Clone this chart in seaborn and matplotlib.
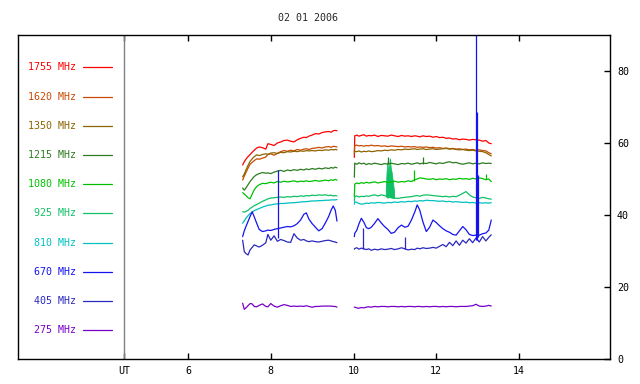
import matplotlib
matplotlib.use("Agg")
import matplotlib.pyplot as plt
import numpy as np
import pandas as pd
import seaborn as sns

# ---------------------------------------------------------------------------
# Data
# ---------------------------------------------------------------------------
TITLE = "02 01 2006"
BANDS = ["1755 MHz", "1620 MHz", "1350 MHz", "1215 MHz", "1080 MHz",
         "925 MHz", "810 MHz", "670 MHz", "405 MHz", "275 MHz"]
COLORS = ["#FF0000", "#C84A00", "#8C6400", "#2C7C20", "#00C000",
          "#10C064", "#00C0C0", "#1414F0", "#2828C0", "#7800C8"]

UT_MARK = 4.45
X_TICKS = [6, 8, 10, 12, 14]
Y_TICKS = [0, 20, 40, 60, 80]

# first observing block
T1 = [7.32, 7.36, 7.40, 7.45, 7.50, 7.55, 7.60, 7.66, 7.72, 7.80,
      7.88, 7.93, 8.00, 8.08, 8.16, 8.24, 8.32, 8.40, 8.48, 8.56,
      8.64, 8.72, 8.80, 8.86, 8.92, 9.00, 9.08, 9.16, 9.24, 9.32,
      9.40, 9.46, 9.51, 9.56, 9.60]
F1755_A = [53.9, 54.8, 55.5, 56.2, 56.8, 57.4, 58.0, 58.6, 58.9, 58.7,
           58.3, 59.8, 59.6, 59.3, 60.0, 60.3, 60.7, 60.8, 60.5, 60.3,
           60.9, 61.3, 61.6, 61.5, 61.9, 62.2, 62.6, 62.5, 62.9, 63.1,
           63.2, 63.0, 63.4, 63.5, 63.4]
F1620_A = [49.7, 50.8, 51.8, 53.0, 54.1, 54.6, 55.1, 55.6, 55.5, 55.8,
           56.1, 56.9, 57.0, 56.6, 57.1, 57.6, 57.9, 57.7, 58.0, 57.8,
           58.2, 58.0, 58.3, 58.4, 58.2, 58.5, 58.6, 58.8, 58.6, 58.9,
           59.0, 58.8, 59.1, 59.0, 58.9]
F1350_A = [50.6, 51.4, 52.5, 53.8, 54.9, 55.6, 56.2, 56.7, 56.5, 56.8,
           57.0, 56.8, 57.2, 57.3, 57.1, 57.4, 57.3, 57.6, 57.5, 57.7,
           57.6, 57.8, 57.7, 57.9, 57.8, 57.9, 57.8, 58.0, 57.9, 58.1,
           58.0, 58.2, 58.1, 58.2, 58.1]
F1215_A = [47.5, 46.9, 47.5, 48.4, 49.3, 50.0, 50.7, 51.2, 51.5, 51.8,
           51.6, 51.7, 51.5, 51.9, 52.2, 52.4, 52.1, 52.5, 52.3, 52.6,
           52.4, 52.7, 52.5, 52.8, 52.6, 52.9, 52.7, 53.0, 52.8, 53.1,
           52.9, 53.2, 53.0, 53.3, 53.1]
F1080_A = [46.2, 45.8, 45.4, 44.8, 44.5, 45.8, 47.0, 47.9, 48.4, 48.8,
           48.7, 48.9, 49.1, 48.9, 49.3, 49.1, 49.4, 49.2, 49.3, 49.5,
           49.2, 49.4, 49.3, 49.5, 49.3, 49.4, 49.6, 49.4, 49.5, 49.7,
           49.5, 49.8, 49.6, 49.9, 49.7]
F925_A = [40.9, 40.8, 41.0, 41.3, 41.8, 42.2, 42.6, 42.9, 43.3, 43.8,
          44.2, 44.5, 44.7, 44.8, 44.9, 45.0, 44.9, 45.1, 45.0, 45.2,
          45.1, 45.3, 45.2, 45.4, 45.3, 45.5, 45.4, 45.6, 45.5, 45.6,
          45.4, 45.5, 45.3, 45.4, 45.3]
F810_A = [37.7, 38.4, 39.1, 39.8, 40.4, 40.8, 41.2, 41.5, 41.8, 42.2,
          42.5, 42.7, 42.8, 43.0, 43.1, 43.2, 43.2, 43.3, 43.4, 43.4,
          43.5, 43.6, 43.7, 43.7, 43.8, 43.9, 43.9, 44.0, 44.0, 44.1,
          44.1, 44.2, 44.2, 44.2, 44.3]
F670_A = [34.0, 35.6, 36.8, 38.2, 39.6, 40.9, 39.5, 37.7, 36.0, 35.4,
          35.6, 35.8, 35.7, 36.0, 36.2, 36.4, 36.6, 36.8, 36.7, 37.0,
          37.6, 38.6, 40.2, 40.6, 38.9, 37.6, 36.6, 35.6, 36.2, 37.8,
          39.6, 41.4, 42.5, 41.3, 38.3]
F405_A = [33.0, 29.8, 29.3, 28.9, 30.3, 31.0, 31.7, 31.4, 31.1, 31.6,
          32.3, 34.6, 33.0, 34.2, 32.7, 33.2, 32.9, 32.5, 32.4, 34.8,
          33.6, 33.0, 33.2, 32.8, 32.6, 32.8, 32.6, 32.5, 32.7, 32.9,
          33.0, 32.8, 32.6, 32.5, 32.3]
F275_A = [15.5, 13.8, 14.2, 14.8, 15.4, 15.3, 14.6, 14.5, 14.9, 15.3,
          14.6, 14.5, 15.4, 14.7, 14.4, 14.8, 15.1, 14.9, 14.6, 14.7,
          14.6, 14.7, 14.6, 14.8, 14.6, 14.4, 14.6, 14.6, 14.7, 14.7,
          14.7, 14.7, 14.6, 14.6, 14.4]

# second observing block
T2 = [10.02, 10.03, 10.08, 10.13, 10.19, 10.25, 10.31, 10.37, 10.43, 10.51,
      10.59, 10.67, 10.75, 10.83, 10.91, 10.99, 11.08, 11.16, 11.24, 11.32,
      11.40, 11.48, 11.54, 11.60, 11.68, 11.76, 11.84, 11.92, 12.00, 12.08,
      12.16, 12.24, 12.32, 12.40, 12.48, 12.56, 12.64, 12.72, 12.80, 12.88,
      12.96, 13.04, 13.12, 13.20, 13.27, 13.33]
F1755_B = [56.0, 62.0, 62.2, 61.9, 62.1, 62.3, 61.9, 62.1, 62.0, 62.2,
           61.8, 62.1, 62.0, 61.9, 62.2, 62.0, 61.8, 62.1, 61.9, 62.0,
           61.8, 62.0, 61.9, 61.7, 62.0, 61.8, 61.9, 61.6, 61.8, 61.5,
           61.6, 61.3, 61.4, 61.1, 61.2, 60.9, 61.1, 61.0, 60.8, 61.0,
           60.9, 60.8, 60.5, 60.7, 60.0, 59.8]
F1620_B = [57.5, 59.3, 59.4, 59.2, 59.3, 59.1, 59.3, 59.2, 59.4, 59.2,
           59.3, 59.1, 59.2, 59.0, 59.2, 59.1, 59.0, 59.1, 58.9, 59.0,
           58.9, 59.0, 58.8, 58.9, 58.8, 58.9, 58.7, 58.8, 58.6, 58.7,
           58.5, 58.6, 58.4, 58.5, 58.3, 58.4, 58.2, 58.3, 58.1, 58.2,
           58.0, 58.1, 57.9, 57.8, 57.3, 57.0]
F1350_B = [57.0, 57.7, 57.6, 57.8, 57.5, 57.7, 57.6, 57.8, 57.6, 57.7,
           57.9, 57.8, 58.0, 57.9, 58.1, 58.0, 58.2, 58.1, 58.3, 58.2,
           58.3, 58.4, 58.2, 58.3, 58.4, 58.2, 58.3, 58.4, 58.2, 58.3,
           58.4, 58.5, 58.3, 58.4, 58.2, 58.1, 58.2, 58.0, 57.9, 58.0,
           57.8, 57.7, 57.6, 57.3, 56.8, 56.4]
F1215_B = [50.5, 54.4, 54.1, 54.5, 54.2, 54.4, 54.0, 54.3, 54.1, 54.4,
           54.2, 54.0, 54.3, 54.1, 54.4, 54.2, 54.0, 54.3, 54.2, 54.4,
           54.1, 54.3, 54.5, 54.2, 54.4, 54.3, 54.6, 54.4, 54.2, 54.5,
           54.3, 54.6, 54.8, 54.5, 54.6, 54.3, 54.1, 54.3, 54.5, 54.2,
           54.4, 54.2, 54.5, 54.3, 54.4, 54.3]
F1080_B = [45.0, 48.6, 48.9, 48.7, 49.0, 48.8, 49.1, 48.9, 49.0, 49.2,
           48.9, 49.1, 49.3, 49.0, 49.2, 49.4, 49.1, 49.3, 49.2, 49.5,
           49.3, 49.8, 50.0, 50.3, 50.2, 50.0, 49.9, 50.1, 49.8, 50.0,
           49.9, 50.1, 49.8, 50.0, 49.9, 50.2, 50.0, 50.1, 49.9, 50.2,
           50.0, 50.3, 50.1, 49.8, 50.0, 49.3]
F925_B = [44.0, 45.1, 45.3, 45.0, 45.2, 45.1, 45.3, 45.2, 45.4, 45.6,
          45.3, 45.6, 45.4, 45.2, 45.0, 44.7, 44.6, 44.8, 44.9, 45.0,
          45.1, 45.3, 45.4, 45.2, 45.5, 45.6, 45.5, 45.4, 45.3, 45.2,
          45.1, 45.2, 45.0, 45.2, 45.1, 45.5, 46.0, 46.5, 45.6, 45.0,
          44.8, 44.6, 44.9, 44.7, 44.5, 44.4]
F810_B = [43.0, 43.7, 43.5, 43.2, 43.0, 43.1, 43.3, 43.2, 43.4, 43.3,
          43.5, 43.4, 43.3, 43.5, 43.4, 43.6, 43.5, 43.7, 43.6, 43.8,
          43.7, 43.9, 43.8, 44.0, 43.9, 44.1, 44.0, 44.0, 43.9, 43.8,
          43.9, 43.7, 43.8, 43.6, 43.7, 43.6, 43.5, 43.6, 43.4, 43.5,
          43.3, 43.4, 43.3, 43.4, 43.3, 43.4]
F670_B = [34.0, 34.9, 35.8, 37.5, 39.1, 38.0, 36.5, 36.2, 36.6, 37.7,
          39.0, 37.8, 36.8, 36.0, 34.9, 35.2, 36.5, 37.2, 36.6, 36.9,
          38.6, 40.8, 42.8, 41.4, 38.0, 35.4, 36.6, 38.6, 37.9, 37.0,
          36.2, 35.6, 35.2, 34.6, 34.4, 35.6, 36.8, 35.9, 34.6, 34.3,
          34.4, 34.4, 34.8, 35.0, 35.8, 38.6]
F405_B = [30.5, 30.7, 30.9, 30.5, 30.8, 30.6, 30.4, 30.6, 30.2, 30.5,
          30.3, 30.6, 30.4, 30.5, 30.7, 30.4, 30.6, 30.9, 30.6, 30.3,
          30.5, 30.4, 30.8, 30.6, 30.9, 30.7, 30.8, 31.0, 30.8, 31.3,
          31.8, 31.2, 32.4, 31.5, 32.8, 31.6, 33.0, 32.2, 33.4, 32.3,
          33.6, 32.5, 34.0, 32.8, 33.8, 34.5]
F275_B = [14.4, 14.4, 14.2, 14.1, 14.3, 14.2, 14.4, 14.5, 14.4, 14.6,
          14.5, 14.6, 14.6, 14.5, 14.6, 14.6, 14.5, 14.6, 14.5, 14.6,
          14.6, 14.5, 14.6, 14.6, 14.5, 14.6, 14.5, 14.6, 14.6, 14.5,
          14.6, 14.5, 14.6, 14.6, 14.5, 14.6, 14.6, 14.6, 14.7, 14.8,
          15.2, 14.7, 14.6, 14.7, 14.9, 14.7]

# short spikes (time, low, high)
SPIKE670_T = [8.18, 12.965, 12.995, 13.02]
SPIKE670_LO = [33.5, 33.0, 33.0, 34.0]
SPIKE670_HI = [52.5, 95.0, 68.6, 51.0]
SPIKE405_T = [10.23, 11.25]
SPIKE405_LO = [30.5, 30.5]
SPIKE405_HI = [36.3, 34.0]
SPIKE1080_T = [11.46, 13.20]
SPIKE1080_LO = [49.5, 50.0]
SPIKE1080_HI = [52.5, 51.5]
SPIKE1215_T = [10.83, 11.69]
SPIKE1215_LO = [54.2, 54.2]
SPIKE1215_HI = [56.2, 56.2]

# 925 MHz burst
BURST_T = [10.78, 10.80, 10.82, 10.84, 10.86, 10.88, 10.90, 10.92, 10.94, 10.96, 10.98]
BURST_LO = [45.2, 45.0, 44.8, 45.0, 44.9, 45.1, 44.8, 45.0, 44.7, 44.8, 44.7]
BURST_HI = [47.0, 52.0, 54.8, 51.5, 53.4, 55.7, 53.0, 52.0, 50.2, 48.5, 46.5]

SEG_A = [F1755_A, F1620_A, F1350_A, F1215_A, F1080_A, F925_A, F810_A, F670_A, F405_A, F275_A]
SEG_B = [F1755_B, F1620_B, F1350_B, F1215_B, F1080_B, F925_B, F810_B, F670_B, F405_B, F275_B]

rows = []
for band, va, vb in zip(BANDS, SEG_A, SEG_B):
    rows.append(pd.DataFrame({"ut": T1, "flux": va, "band": band, "seg": "a"}))
    rows.append(pd.DataFrame({"ut": T2, "flux": vb, "band": band, "seg": "b"}))
df = pd.concat(rows, ignore_index=True)
pal = dict(zip(BANDS, COLORS))

# ---------------------------------------------------------------------------
# Style
# ---------------------------------------------------------------------------
sns.set_theme(style="white")
plt.rcParams["font.family"] = ["DejaVu Sans Mono"]
FS = 7.2

fig = plt.figure(figsize=(6.4, 3.84), dpi=100)
ax = fig.add_axes([18 / 640, 1 - 359 / 384, 592 / 640, 324 / 384])

ax.axvline(UT_MARK, color="#808080", lw=1.0, zorder=1)

sns.lineplot(data=df, x="ut", y="flux", hue="band", hue_order=BANDS,
             palette=pal, units="seg", estimator=None, legend=False,
             linewidth=0.9, ax=ax)

ax.fill_between(BURST_T, BURST_LO, BURST_HI, color=pal["925 MHz"], lw=0.6)
ax.vlines(SPIKE1215_T, SPIKE1215_LO, SPIKE1215_HI, color=pal["1215 MHz"], lw=0.9)
ax.vlines(SPIKE1080_T, SPIKE1080_LO, SPIKE1080_HI, color=pal["1080 MHz"], lw=0.9)
ax.vlines(SPIKE405_T, SPIKE405_LO, SPIKE405_HI, color=pal["405 MHz"], lw=0.9)
ax.vlines(SPIKE670_T, SPIKE670_LO, SPIKE670_HI, color=pal["670 MHz"], lw=0.9)

ax.set_xlim(1.89, 16.2)
ax.set_ylim(0, 90)
ax.set_xlabel("")
ax.set_ylabel("")

ax.set_xticks([UT_MARK] + X_TICKS)
ax.set_xticklabels(["UT"] + [str(t) for t in X_TICKS])
ax.set_yticks(Y_TICKS)
ax.yaxis.tick_right()
ax.tick_params(axis="x", direction="in", top=True, bottom=True, length=4,
               width=1, pad=5, labelsize=FS, colors="black")
ax.tick_params(axis="y", direction="in", left=False, right=True, length=4,
               width=1, pad=5, labelsize=FS, colors="black")
for sp in ax.spines.values():
    sp.set_color("black")
    sp.set_linewidth(1.0)

# band key on the left
for i, (band, col) in enumerate(zip(BANDS, COLORS)):
    y = 0.900 - i * 0.0901
    ax.text(0.098, y, band, transform=ax.transAxes, ha="right", va="center",
            color=col, fontsize=FS)
    ax.plot([0.110, 0.159], [y, y], transform=ax.transAxes, color=col, lw=0.9)

fig.text(308 / 640, 1 - 18 / 384, TITLE, ha="center", va="center", fontsize=FS)

fig.savefig("out.png", dpi=100, facecolor="white")
